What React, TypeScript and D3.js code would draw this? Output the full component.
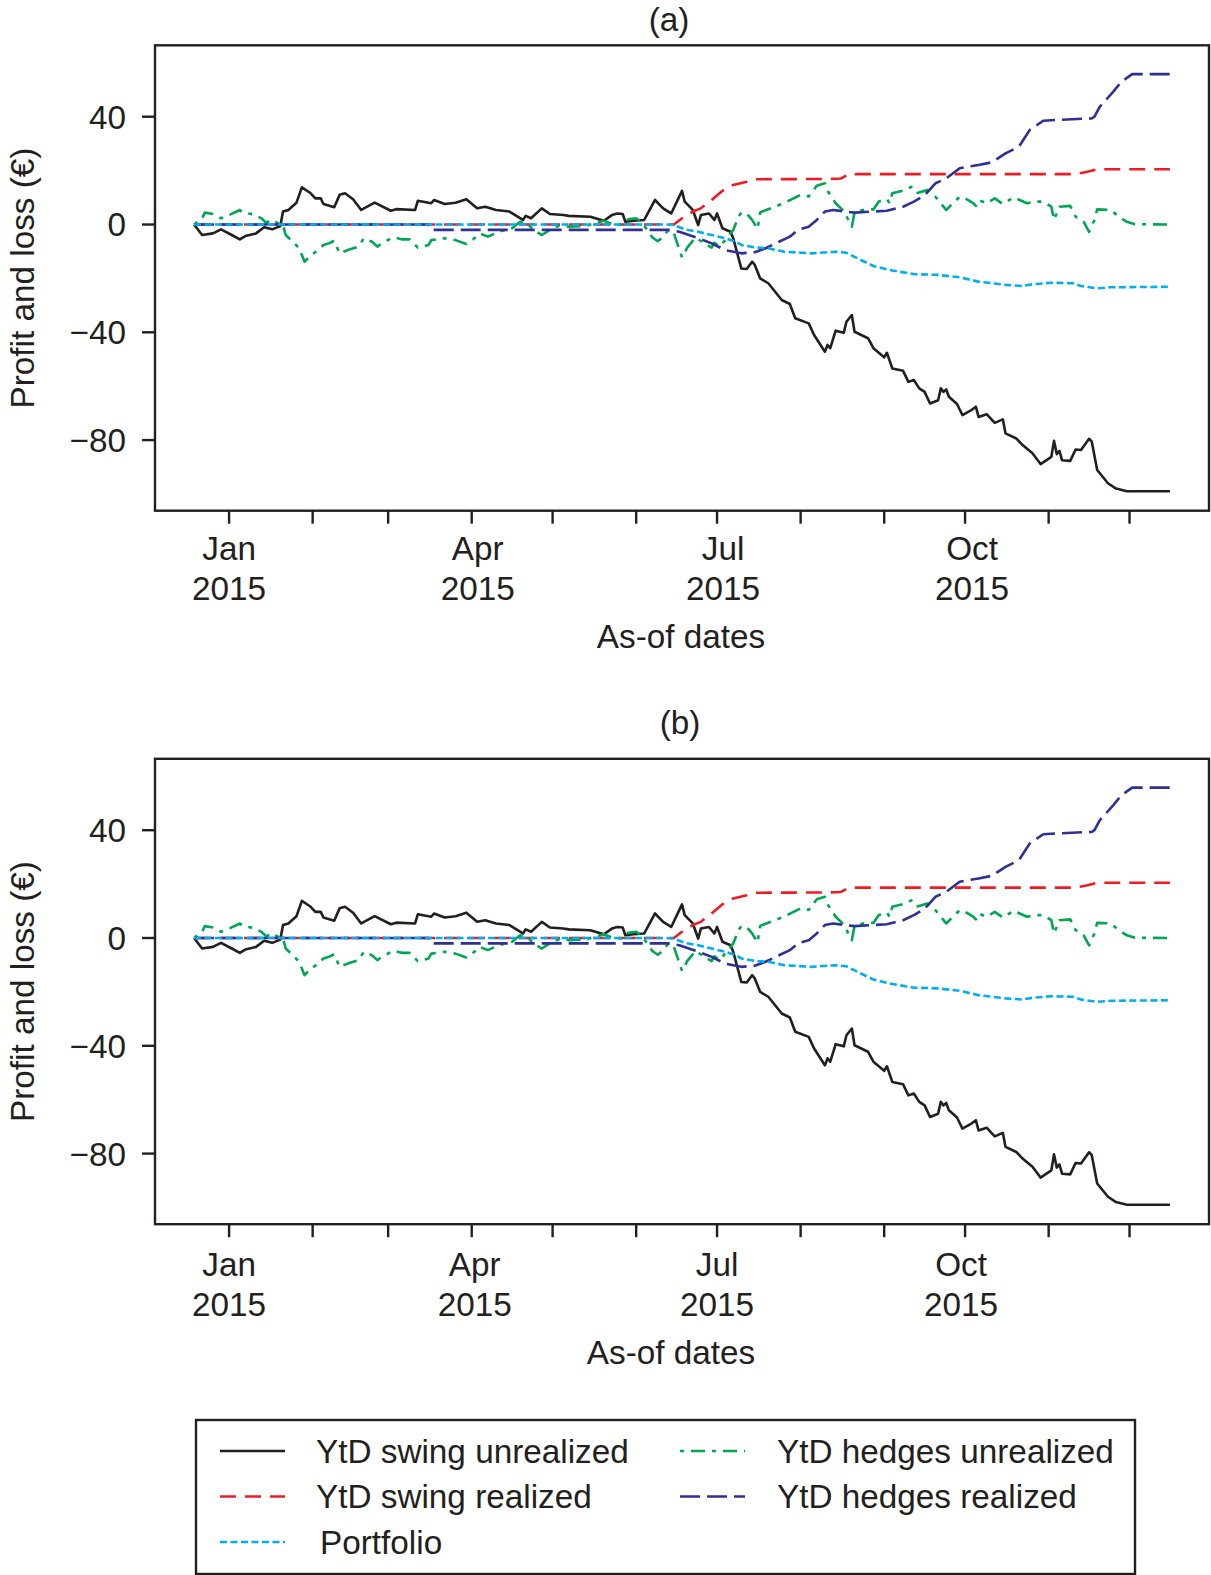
import * as d3 from "d3";

type Obs = [string, number];

// YtD swing unrealized (black)
const swingUnrealized: Obs[] = [
  ["2014-12-19", 0], ["2014-12-22", -3.9], ["2014-12-26", -3.3], ["2014-12-29", -1.8],
  ["2015-01-02", -3.9], ["2015-01-05", -5.5], ["2015-01-07", -4.3], ["2015-01-11", -3.3],
  ["2015-01-14", -1], ["2015-01-17", -1.8], ["2015-01-20", -0.6], ["2015-01-21", 4.8],
  ["2015-01-23", 5.4], ["2015-01-26", 8.1], ["2015-01-28", 13.8], ["2015-01-31", 11.8],
  ["2015-02-02", 9.7], ["2015-02-04", 9.7], ["2015-02-05", 7.6], ["2015-02-09", 6.4],
  ["2015-02-11", 11], ["2015-02-13", 11.6], ["2015-02-16", 9.4], ["2015-02-19", 5.4],
  ["2015-02-24", 8.1], ["2015-03-02", 5.1], ["2015-03-04", 5.7], ["2015-03-11", 5.4],
  ["2015-03-12", 8.8], ["2015-03-17", 7.9], ["2015-03-18", 9.1], ["2015-03-22", 7.6],
  ["2015-03-26", 8.1], ["2015-03-30", 9.4], ["2015-04-03", 6], ["2015-04-06", 6.6],
  ["2015-04-10", 5.4], ["2015-04-15", 4.8], ["2015-04-20", 1.7], ["2015-04-21", 3.2],
  ["2015-04-23", 2.3], ["2015-04-27", 6], ["2015-04-30", 3.9], ["2015-05-05", 3.5],
  ["2015-05-07", 3.2], ["2015-05-15", 2.9], ["2015-05-20", 1.4], ["2015-05-23", 3.5],
  ["2015-05-25", 4.1], ["2015-05-27", 3.9], ["2015-05-28", 1], ["2015-05-31", 1.4],
  ["2015-06-04", 1.7], ["2015-06-08", 9.1], ["2015-06-11", 6], ["2015-06-14", 4.1],
  ["2015-06-18", 12.5], ["2015-06-19", 8.5], ["2015-06-22", 5.4], ["2015-06-24", -0.2],
  ["2015-06-25", 3.5], ["2015-06-28", 4.1], ["2015-06-30", 1.7], ["2015-07-01", 4.1],
  ["2015-07-03", -1.4], ["2015-07-06", -2.7], ["2015-07-07", -5.1], ["2015-07-10", -16.3],
  ["2015-07-12", -16.5], ["2015-07-14", -13.8], ["2015-07-15", -15], ["2015-07-17", -20],
  ["2015-07-20", -21.8], ["2015-07-23", -25.5], ["2015-07-25", -28], ["2015-07-28", -29.5],
  ["2015-07-30", -34.8], ["2015-08-04", -36.7], ["2015-08-06", -41], ["2015-08-10", -47.2],
  ["2015-08-11", -44.7], ["2015-08-12", -45.9], ["2015-08-14", -39.4], ["2015-08-17", -40.2],
  ["2015-08-18", -36.1], ["2015-08-20", -33.6], ["2015-08-21", -39.8], ["2015-08-26", -42.2],
  ["2015-08-28", -45.9], ["2015-09-01", -49.3], ["2015-09-02", -47.6], ["2015-09-04", -53.4],
  ["2015-09-08", -54.3], ["2015-09-10", -58.4], ["2015-09-12", -57.7], ["2015-09-14", -60.8],
  ["2015-09-16", -62.1], ["2015-09-18", -66.4], ["2015-09-21", -65.2], ["2015-09-22", -60.8],
  ["2015-09-23", -62.1], ["2015-09-24", -61.2], ["2015-09-25", -63.9], ["2015-09-28", -66.6],
  ["2015-09-30", -70.7], ["2015-10-03", -69.1], ["2015-10-05", -67.6], ["2015-10-06", -71.4],
  ["2015-10-09", -70.4], ["2015-10-12", -73.6], ["2015-10-15", -72.3], ["2015-10-16", -77.5],
  ["2015-10-20", -79.4], ["2015-10-22", -81.5], ["2015-10-26", -84.9], ["2015-10-29", -88.9],
  ["2015-11-02", -86.2], ["2015-11-03", -80.3], ["2015-11-04", -85.2], ["2015-11-05", -84],
  ["2015-11-06", -87.5], ["2015-11-09", -87.7], ["2015-11-11", -83.5], ["2015-11-13", -83.7],
  ["2015-11-16", -79.5], ["2015-11-17", -80.6], ["2015-11-19", -91.1], ["2015-11-23", -96],
  ["2015-11-26", -98], ["2015-11-30", -99], ["2015-12-16", -99],
];

// YtD swing realized (red)
const swingRealized: Obs[] = [
  ["2014-12-19", 0], ["2015-06-15", 0], ["2015-06-18", 2.3], ["2015-06-22", 4.8],
  ["2015-06-25", 6], ["2015-06-29", 9.1], ["2015-07-03", 12.5], ["2015-07-07", 14.7],
  ["2015-07-12", 15.9], ["2015-07-15", 16.8], ["2015-08-11", 16.9], ["2015-08-16", 17.1],
  ["2015-08-19", 18.7], ["2015-11-11", 18.7], ["2015-11-15", 19.5], ["2015-11-19", 20.5],
  ["2015-12-16", 20.5],
];

// YtD hedges unrealized (green)
const hedgesUnrealized: Obs[] = [
  ["2014-12-19", 0], ["2014-12-22", 2.3], ["2014-12-23", 4.4], ["2014-12-26", 3.9],
  ["2014-12-29", 2.3], ["2015-01-01", 3.5], ["2015-01-05", 5.4], ["2015-01-06", 4.4],
  ["2015-01-10", 3.8], ["2015-01-13", 2.3], ["2015-01-15", 0.4], ["2015-01-16", 1.7],
  ["2015-01-18", 1], ["2015-01-21", -0.2], ["2015-01-22", -3.9], ["2015-01-24", -5.8],
  ["2015-01-27", -8.8], ["2015-01-29", -13.8], ["2015-01-31", -11.7], ["2015-02-03", -9.5],
  ["2015-02-05", -7.6], ["2015-02-07", -7], ["2015-02-09", -6], ["2015-02-11", -10.7],
  ["2015-02-14", -9.5], ["2015-02-18", -8.2], ["2015-02-20", -5.1], ["2015-02-23", -6.4],
  ["2015-02-25", -8.2], ["2015-02-27", -6.8], ["2015-03-03", -4.7], ["2015-03-06", -5.5],
  ["2015-03-09", -5.5], ["2015-03-12", -8.6], ["2015-03-16", -7.6], ["2015-03-17", -5.8],
  ["2015-03-22", -5.1], ["2015-03-26", -5.8], ["2015-03-30", -7.2], ["2015-04-02", -5.1],
  ["2015-04-04", -3.3], ["2015-04-07", -4.5], ["2015-04-11", -2.7], ["2015-04-16", -1.4],
  ["2015-04-19", 1], ["2015-04-22", -0.2], ["2015-04-25", -2.7], ["2015-04-27", -3.9],
  ["2015-04-30", -2], ["2015-05-03", -0.6], ["2015-05-07", -0.8], ["2015-05-13", -0.6],
  ["2015-05-20", 1.4], ["2015-05-23", 0.2], ["2015-05-27", -0.2], ["2015-05-29", 1.9],
  ["2015-06-01", 2.3], ["2015-06-03", 1], ["2015-06-07", -4.8], ["2015-06-09", -6.2],
  ["2015-06-11", -4.6], ["2015-06-13", -2], ["2015-06-15", -3.3], ["2015-06-18", -12.2],
  ["2015-06-20", -8.5], ["2015-06-23", -4.8], ["2015-06-26", -6.8], ["2015-06-29", -8.6],
  ["2015-06-30", -6.8], ["2015-07-02", -8.2], ["2015-07-04", -5.8], ["2015-07-07", -2],
  ["2015-07-09", 3], ["2015-07-10", 4.4], ["2015-07-12", 4.1], ["2015-07-14", 1.7],
  ["2015-07-16", -1.7], ["2015-07-17", 4.5], ["2015-07-23", 6.8], ["2015-07-25", 7.6],
  ["2015-07-29", 9.5], ["2015-08-01", 11], ["2015-08-04", 10.4], ["2015-08-07", 14.4],
  ["2015-08-10", 15.3], ["2015-08-11", 12.5], ["2015-08-14", 7.9], ["2015-08-17", 5],
  ["2015-08-20", -0.8], ["2015-08-21", 4.5], ["2015-08-25", 5.6], ["2015-08-28", 5.6],
  ["2015-08-30", 8.5], ["2015-09-02", 9.4], ["2015-09-03", 7.9], ["2015-09-04", 11.6],
  ["2015-09-09", 12.8], ["2015-09-11", 14], ["2015-09-13", 11.6], ["2015-09-17", 12.8],
  ["2015-09-20", 10.3], ["2015-09-24", 5.4], ["2015-09-29", 10.3], ["2015-10-01", 9.7],
  ["2015-10-04", 7.9], ["2015-10-05", 6.9], ["2015-10-06", 9.1], ["2015-10-09", 7.9],
  ["2015-10-12", 9.7], ["2015-10-15", 7.6], ["2015-10-19", 10.1], ["2015-10-24", 7.9],
  ["2015-10-27", 8.5], ["2015-10-30", 8.5], ["2015-11-02", 6.6], ["2015-11-03", 1.7],
  ["2015-11-05", 6.6], ["2015-11-09", 6.9], ["2015-11-11", 2.9], ["2015-11-14", 1],
  ["2015-11-16", -2.7], ["2015-11-18", 1.7], ["2015-11-19", 5.6], ["2015-11-24", 5.4],
  ["2015-11-27", 2.9], ["2015-11-30", 1], ["2015-12-03", 0.1], ["2015-12-16", 0],
];

// YtD hedges realized (dark blue)
const hedgesRealized: Obs[] = [
  ["2014-12-19", 0], ["2015-03-16", 0], ["2015-03-17", -2], ["2015-06-13", -2],
  ["2015-06-17", -2.7], ["2015-06-23", -4.7], ["2015-06-29", -7], ["2015-07-04", -9.5],
  ["2015-07-10", -10.7], ["2015-07-15", -10.3], ["2015-07-19", -8.8], ["2015-07-24", -6.4],
  ["2015-07-28", -4.5], ["2015-07-31", -2], ["2015-08-04", -0.8], ["2015-08-07", 1.7],
  ["2015-08-10", 4.8], ["2015-08-13", 5.4], ["2015-08-21", 4.4], ["2015-09-02", 5.1],
  ["2015-09-08", 6.6], ["2015-09-12", 8.5], ["2015-09-16", 10.9], ["2015-09-20", 15.3],
  ["2015-09-24", 17.1], ["2015-09-29", 20.9], ["2015-10-06", 22.1], ["2015-10-11", 23.1],
  ["2015-10-16", 26.4], ["2015-10-19", 27.9], ["2015-10-21", 28.9], ["2015-10-23", 32],
  ["2015-10-25", 35.1], ["2015-10-30", 38.5], ["2015-11-04", 38.8], ["2015-11-17", 39.4],
  ["2015-11-18", 40], ["2015-11-20", 43.7], ["2015-11-25", 49.3], ["2015-11-28", 53],
  ["2015-12-02", 55.8], ["2015-12-16", 55.8],
];

// Portfolio (cyan)
const portfolio: Obs[] = [
  ["2014-12-19", 0], ["2015-06-12", 0], ["2015-06-15", -0.2], ["2015-06-19", -1.8],
  ["2015-06-24", -2.7], ["2015-06-29", -3.9], ["2015-07-04", -5.1], ["2015-07-08", -6.4],
  ["2015-07-10", -7.6], ["2015-07-15", -8.5], ["2015-07-20", -8.8], ["2015-07-26", -10.1],
  ["2015-08-05", -10.7], ["2015-08-14", -10.1], ["2015-08-18", -10.5], ["2015-08-22", -12.5],
  ["2015-08-28", -15.4], ["2015-09-04", -17.1], ["2015-09-12", -18.4], ["2015-09-21", -18.7],
  ["2015-09-29", -19.6], ["2015-10-06", -21.2], ["2015-10-16", -22.4], ["2015-10-22", -22.8],
  ["2015-10-26", -22.2], ["2015-11-02", -21.6], ["2015-11-10", -21.8], ["2015-11-13", -22.8],
  ["2015-11-19", -23.7], ["2015-11-24", -23.3], ["2015-12-16", -23.1],
];

const yTicks = [-80, -40, 0, 40];
const yLimits: [number, number] = [-106.2, 66.5];
const labelledMonths = [0, 3, 6, 9];

const series = [
  { name: "YtD swing unrealized", data: swingUnrealized, color: "#231f20", dash: undefined },
  { name: "YtD swing realized", data: swingRealized, color: "#ed1c24", dash: "16 9" },
  { name: "YtD hedges unrealized", data: hedgesUnrealized, color: "#00a651", dash: "4 7 14 7" },
  { name: "YtD hedges realized", data: hedgesRealized, color: "#2e3192", dash: "20 7" },
  { name: "Portfolio", data: portfolio, color: "#00aeef", dash: "7 3.5" },
];

const legendCells = [
  { key: "YtD swing unrealized", col: 0, row: 0 },
  { key: "YtD swing realized", col: 0, row: 1 },
  { key: "Portfolio", col: 0, row: 2 },
  { key: "YtD hedges unrealized", col: 1, row: 0 },
  { key: "YtD hedges realized", col: 1, row: 1 },
];

const width = 1211;
const height = 1575;
const font = "'Liberation Sans', Arial, Helvetica, sans-serif";
const fs = 33.3;
const ink = "#231f20";

const parse = d3.timeParse("%Y-%m-%d");
const allDates = series.flatMap((s) => s.data.map((d) => parse(d[0]) as Date));
const [d0, d1] = d3.extent(allDates) as [Date, Date];
const span = d1.getTime() - d0.getTime();

const plotLeft = 155;
const plotRight = 1209;
const x = d3
  .scaleTime()
  .domain([new Date(d0.getTime() - 0.04 * span), new Date(d1.getTime() + 0.04 * span)])
  .range([plotLeft, plotRight]);

const months = d3.timeMonth.range(new Date(2015, 0, 1), new Date(2015, 11, 2));

type PanelProps = {
  top: number;
  bottom: number;
  title: string;
  titleX: number;
  titleY: number;
  xlabX: number;
  labelDy: number;
  nudges: number[];
};

const Panel = ({ top, bottom, title, titleX, titleY, xlabX, labelDy, nudges }: PanelProps) => {
  const y = d3.scaleLinear().domain(yLimits).range([bottom, top]);
  const line = d3
    .line<Obs>()
    .x((d) => x(parse(d[0]) as Date))
    .y((d) => y(d[1]));
  const midY = (top + bottom) / 2;
  return (
    <g>
      <text x={titleX} y={titleY} textAnchor="middle" fontSize={fs}>
        {title}
      </text>
      <defs>
        <clipPath id={`clip-${title}`}>
          <rect x={plotLeft} y={top} width={plotRight - plotLeft} height={bottom - top} />
        </clipPath>
      </defs>
      <g clipPath={`url(#clip-${title})`}>
        {series.map((s) => (
          <path
            key={s.name}
            d={line(s.data) ?? undefined}
            fill="none"
            stroke={s.color}
            strokeWidth={2.6}
            strokeDasharray={s.dash}
            strokeLinejoin="round"
          />
        ))}
      </g>
      <rect
        x={plotLeft}
        y={top}
        width={plotRight - plotLeft}
        height={bottom - top}
        fill="none"
        stroke={ink}
        strokeWidth={2.4}
      />
      {yTicks.map((t) => (
        <g key={t}>
          <line x1={plotLeft - 13} x2={plotLeft} y1={y(t)} y2={y(t)} stroke={ink} strokeWidth={2.4} />
          <text x={plotLeft - 29} y={y(t)} dy="0.36em" textAnchor="end" fontSize={fs}>
            {t < 0 ? `\u2212${-t}` : t}
          </text>
        </g>
      ))}
      {months.map((m, i) => {
        const li = labelledMonths.indexOf(i);
        return (
          <g key={i}>
            <line x1={x(m)} x2={x(m)} y1={bottom} y2={bottom + 13} stroke={ink} strokeWidth={2.4} />
            {li >= 0 && (
              <>
                <text x={x(m) + nudges[li]} y={bottom + 49 + labelDy} textAnchor="middle" fontSize={fs}>
                  {d3.timeFormat("%b")(m)}
                </text>
                <text x={x(m) + nudges[li]} y={bottom + 89 + labelDy} textAnchor="middle" fontSize={fs}>
                  {d3.timeFormat("%Y")(m)}
                </text>
              </>
            )}
          </g>
        );
      })}
      <text x={xlabX} y={bottom + 137 + labelDy} textAnchor="middle" fontSize={fs}>
        As-of dates
      </text>
      <text transform={`translate(33.5, ${midY}) rotate(-90)`} textAnchor="middle" fontSize={fs}>
        Profit and loss (€)
      </text>
    </g>
  );
};

const Legend = () => {
  const left = 196;
  const top = 1420;
  const rowH = 45.5;
  const sampleX = [220, 680];
  const textX = [316, 777];
  return (
    <g>
      <rect x={left} y={top} width={939} height={154} fill="none" stroke={ink} strokeWidth={2.4} />
      {legendCells.map((c) => {
        const s = series.find((d) => d.name === c.key)!;
        const cy = top + 31 + c.row * rowH;
        const tx = c.key === "Portfolio" ? textX[0] + 4 : textX[c.col];
        return (
          <g key={c.key}>
            <line
              x1={sampleX[c.col]}
              x2={sampleX[c.col] + 65}
              y1={cy}
              y2={cy}
              stroke={s.color}
              strokeWidth={2.6}
              strokeDasharray={s.dash}
            />
            <text x={tx} y={cy} dy="0.36em" fontSize={fs}>
              {s.name}
            </text>
          </g>
        );
      })}
    </g>
  );
};

export default function App() {
  return (
    <svg
      width={width}
      height={height}
      viewBox={`0 0 ${width} ${height}`}
      style={{ position: "absolute", left: 0, top: 0, background: "#fff" }}
      fontFamily={font}
      fill={ink}
    >
      <rect width={width} height={height} fill="#fff" />
      <Panel
        top={45.3}
        bottom={510.7}
        title="(a)"
        titleX={669}
        titleY={31}
        xlabX={681}
        labelDy={0}
        nudges={[0, 6, 6, 7]}
      />
      <Panel
        top={758.8}
        bottom={1224.2}
        title="(b)"
        titleX={680}
        titleY={734}
        xlabX={671}
        labelDy={2.5}
        nudges={[0, 3, 0, -4]}
      />
      <Legend />
    </svg>
  );
}
